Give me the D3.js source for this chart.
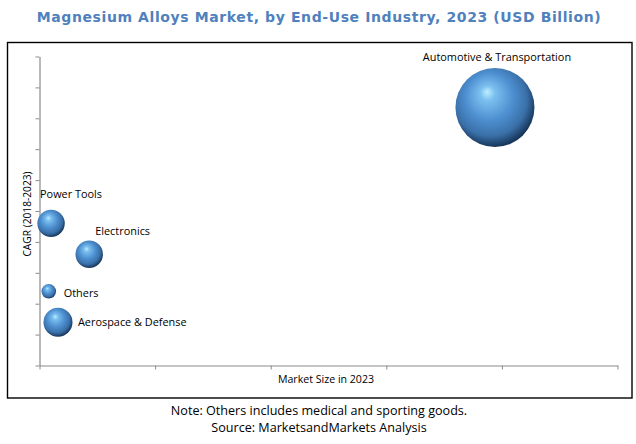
<!DOCTYPE html>
<html>
<head>
<meta charset="utf-8">
<script src="https://cdn.jsdelivr.net/npm/d3@7"></script>
<style>
  html, body { margin: 0; padding: 0; background: #fff; }
  svg { display: block; }
</style>
</head>
<body>
<script>
// ---- data ----
const categories = ["Automotive & Transportation", "Power Tools", "Electronics", "Others", "Aerospace & Defense"];
const marketSize = [3.94, 0.10, 0.43, 0.08, 0.16];   // x (relative units)
const cagr = [8.35, 4.6, 3.6, 2.4, 1.4];              // y (relative units)
const bubbleSize = [15.6, 1.88, 1.88, 0.53, 2.1];     // bubble area value
const xTicks = [0, 1, 2, 3, 4, 5];
const yTicks = [0, 1, 2, 3, 4, 5, 6, 7, 8, 9, 10];
const titleText = "Magnesium Alloys Market, by End-Use Industry, 2023 (USD Billion)";
const xLabel = "Market Size in 2023";
const yLabel = "CAGR (2018-2023)";
const noteLines = ["Note: Others includes medical and sporting goods.", "Source: MarketsandMarkets Analysis"];
// label offsets relative to bubble centre (layout only)
const labelPos = [
  {dx: 2, dy: -46, anchor: "middle"},
  {dx: -11, dy: -25, anchor: "start"},
  {dx: 6, dy: -19, anchor: "start"},
  {dx: 15, dy: 6, anchor: "start"},
  {dx: 20, dy: 4, anchor: "start"}
];

const W = 636, H = 444;
const svg = d3.select("body").append("svg").attr("width", W).attr("height", H);

const defs = svg.append("defs");
const grad = defs.append("radialGradient").attr("id", "sphere")
  .attr("cx", "45%").attr("cy", "42%").attr("r", "58%")
  .attr("fx", "40%").attr("fy", "30%");
grad.append("stop").attr("offset", "0%").attr("stop-color", "#bdefff");
grad.append("stop").attr("offset", "16%").attr("stop-color", "#7cc0f0");
grad.append("stop").attr("offset", "52%").attr("stop-color", "#4d8fd0");
grad.append("stop").attr("offset", "80%").attr("stop-color", "#3a70a8");
grad.append("stop").attr("offset", "100%").attr("stop-color", "#17355a");

// title
svg.append("text").attr("x", 319).attr("y", 22)
  .attr("text-anchor", "middle")
  .attr("font-family", "DejaVu Sans")
  .attr("font-weight", "bold")
  .attr("font-size", 14)
  .attr("letter-spacing", 0.6)
  .attr("fill", "#4f81bd")
  .text(titleText);

// frame
svg.append("rect").attr("x", 7.5).attr("y", 42.5).attr("width", 624.5).attr("height", 355.5)
  .attr("fill", "none").attr("stroke", "#000").attr("stroke-width", 1.4);

const x = d3.scaleLinear().domain([0, 5]).range([39.5, 617.5]);
const y = d3.scaleLinear().domain([0, 10]).range([365.5, 56.5]);
const r = d3.scaleSqrt().domain([0, 15.6]).range([0, 39.5]);

const axisColor = "#8c8c8c";
const gx = svg.append("g").attr("transform", `translate(0,${y(0)})`)
  .call(d3.axisBottom(x).tickValues(xTicks).tickSize(4).tickSizeOuter(0).tickFormat(""));
const gy = svg.append("g").attr("transform", `translate(${x(0)},0)`)
  .call(d3.axisLeft(y).tickValues(yTicks).tickSize(4).tickSizeOuter(0).tickFormat(""));
[gx, gy].forEach(g => {
  g.selectAll("path").attr("stroke", axisColor).attr("stroke-width", 1.2);
  g.selectAll("line").attr("stroke", axisColor).attr("stroke-width", 1);
});

// axis labels
svg.append("text").attr("x", 326).attr("y", 383)
  .attr("text-anchor", "middle").attr("font-family", "Open Sans")
  .attr("font-size", 10.6).attr("fill", "#000").text(xLabel);
svg.append("text").attr("transform", `translate(31,${214}) rotate(-90)`)
  .attr("text-anchor", "middle").attr("font-family", "Open Sans")
  .attr("font-size", 10.2).attr("fill", "#000").text(yLabel);

// bubbles
const data = categories.map((c, i) => ({c, x: marketSize[i], y: cagr[i], s: bubbleSize[i], l: labelPos[i]}));
const g = svg.append("g");
g.selectAll("circle").data(data).join("circle")
  .attr("cx", d => x(d.x)).attr("cy", d => y(d.y)).attr("r", d => r(d.s))
  .attr("fill", "url(#sphere)");
g.selectAll("text").data(data).join("text")
  .attr("x", d => x(d.x) + d.l.dx).attr("y", d => y(d.y) + d.l.dy)
  .attr("text-anchor", d => d.l.anchor)
  .attr("font-family", "Open Sans").attr("font-size", 10.9)
  .attr("fill", "#000").text(d => d.c);

// notes
noteLines.forEach((t, i) => {
  svg.append("text").attr("x", 319).attr("y", 415 + i * 17)
    .attr("text-anchor", "middle").attr("font-family", "Open Sans")
    .attr("font-size", 12.6).attr("fill", "#000").text(t);
});
</script>
</body>
</html>
